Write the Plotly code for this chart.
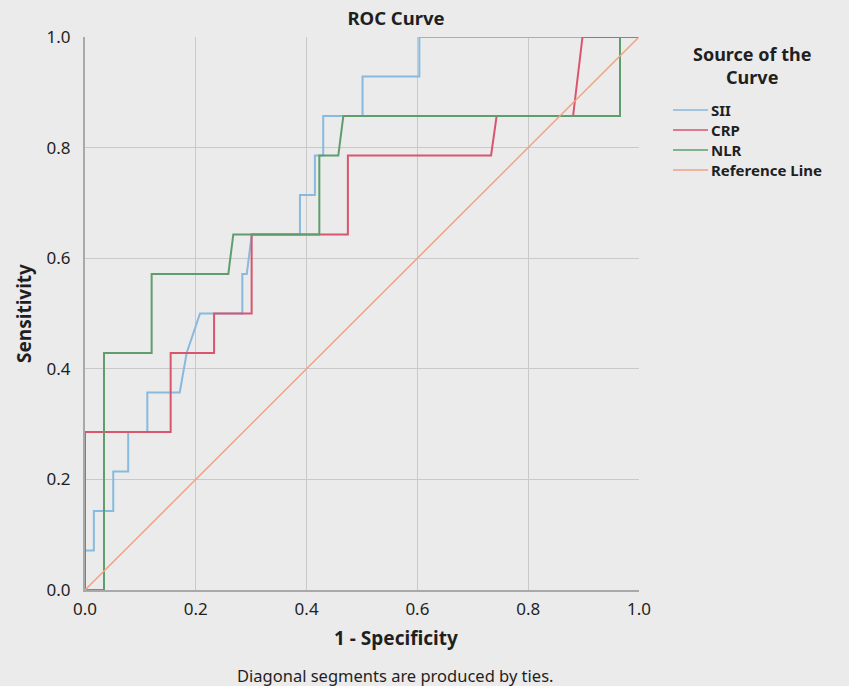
import plotly.graph_objects as go

# ROC curve coordinates (1 - Specificity, Sensitivity)
sii_x = [0, 0, 0.016, 0.016, 0.051, 0.051, 0.078, 0.078, 0.1125, 0.1125, 0.171, 0.1835, 0.2076,
         0.284, 0.284, 0.292, 0.301, 0.388, 0.388, 0.415, 0.415, 0.430, 0.430, 0.501, 0.501,
         0.6035, 0.6035, 1.0]
sii_y = [0, 0.0714, 0.0714, 0.1429, 0.1429, 0.2143, 0.2143, 0.2857, 0.2857, 0.3571, 0.3571, 0.4286, 0.5,
         0.5, 0.5714, 0.5714, 0.6429, 0.6429, 0.7143, 0.7143, 0.7857, 0.7857, 0.8571, 0.8571, 0.9286,
         0.9286, 1.0, 1.0]

crp_x = [0, 0, 0.1546, 0.1546, 0.233, 0.233, 0.3008, 0.3008, 0.4745, 0.4745, 0.733, 0.743,
         0.881, 0.898, 1.0]
crp_y = [0, 0.2857, 0.2857, 0.4286, 0.4286, 0.5, 0.5, 0.6429, 0.6429, 0.7857, 0.7857, 0.8571,
         0.8571, 1.0, 1.0]

nlr_x = [0, 0.0343, 0.0343, 0.1203, 0.1203, 0.2587, 0.2677, 0.423, 0.423, 0.4572, 0.4663,
         0.9657, 0.9657, 1.0]
nlr_y = [0, 0, 0.4286, 0.4286, 0.5714, 0.5714, 0.6429, 0.6429, 0.7857, 0.7857, 0.8571,
         0.8571, 1.0, 1.0]

ref_x = [0, 1]
ref_y = [0, 1]

series_names = ["SII", "CRP", "NLR", "Reference Line"]
series_colors = ["#88b9de", "#d9556e", "#5f9e6c", "#f2a183"]
series_widths = [2, 2, 2, 1.5]

tick_vals = [0.0, 0.2, 0.4, 0.6, 0.8, 1.0]
tick_text = ["0.0", "0.2", "0.4", "0.6", "0.8", "1.0"]

FONT = "Noto Sans"
TXT = "#1f1f1f"
BG = "#ebebeb"
GRID = "#c9c9c9"

W, H = 849, 686
L, R, T, B = 85, 210, 37, 96
PW, PH = W - L - R, H - T - B


def px_x(px):
    return (px - L) / PW


def px_y(py):
    return (H - B - py) / PH


fig = go.Figure()
for xs, ys, name, col, wd in zip([sii_x, crp_x, nlr_x, ref_x], [sii_y, crp_y, nlr_y, ref_y],
                                 series_names, series_colors, series_widths):
    fig.add_trace(go.Scatter(x=xs, y=ys, mode="lines", name=name, showlegend=False,
                             line=dict(color=col, width=wd)))

annotations = [
    dict(text="<b>1 - Specificity</b>", xref="paper", yref="paper",
         x=px_x(396), y=px_y(638), xanchor="center", yanchor="middle",
         showarrow=False, font=dict(size=19, color=TXT)),
    dict(text="Diagonal segments are produced by ties.", xref="paper", yref="paper",
         x=px_x(395), y=px_y(675), xanchor="center", yanchor="middle",
         showarrow=False, font=dict(size=16.5, color=TXT)),
    dict(text="<b>Source of the<br>Curve</b>", xref="paper", yref="paper",
         x=px_x(752), y=px_y(65), xanchor="center", yanchor="middle", align="center",
         showarrow=False, font=dict(size=18, color=TXT)),
]
shapes = []
legend_rows = [110, 130, 150, 170]
for name, col, wd, py in zip(series_names, series_colors, series_widths, legend_rows):
    annotations.append(dict(text="<b>" + name + "</b>", xref="paper", yref="paper",
                            x=px_x(709), y=px_y(py), xanchor="left", yanchor="middle",
                            showarrow=False, font=dict(size=15, color=TXT)))
    shapes.append(dict(type="line", xref="paper", yref="paper",
                       x0=px_x(673), x1=px_x(708), y0=px_y(py), y1=px_y(py),
                       line=dict(color=col, width=1.5)))

fig.update_layout(
    width=W, height=H,
    margin=dict(l=L, r=R, t=T, b=B, autoexpand=False),
    paper_bgcolor=BG, plot_bgcolor=BG,
    font=dict(family=FONT, size=17, color=TXT),
    title=dict(text="<b>ROC Curve</b>", x=396 / W, xanchor="center",
               y=1 - 19 / H, yanchor="middle", yref="container",
               font=dict(size=18.5, color=TXT)),
    showlegend=False,
    xaxis=dict(range=[0, 1], tickvals=tick_vals, ticktext=tick_text,
               showgrid=True, gridcolor=GRID, gridwidth=1, zeroline=False,
               showline=True, linecolor="#a9a9a9", linewidth=2,
               ticks="outside", ticklen=3, tickcolor="rgba(0,0,0,0)",
               tickfont=dict(size=17), fixedrange=True),
    yaxis=dict(range=[0, 1], tickvals=tick_vals, ticktext=tick_text,
               showgrid=True, gridcolor=GRID, gridwidth=1, zeroline=False,
               showline=True, linecolor="#a9a9a9", linewidth=2,
               ticks="outside", ticklen=9, tickcolor="rgba(0,0,0,0)",
               tickfont=dict(size=17),
               title=dict(text="<b>Sensitivity</b>", standoff=10,
                          font=dict(size=19, color=TXT)),
               fixedrange=True),
    annotations=annotations,
    shapes=shapes,
)

fig.write_html("out.html", config={"displayModeBar": False},
               post_script="document.body.style.margin='0';")
